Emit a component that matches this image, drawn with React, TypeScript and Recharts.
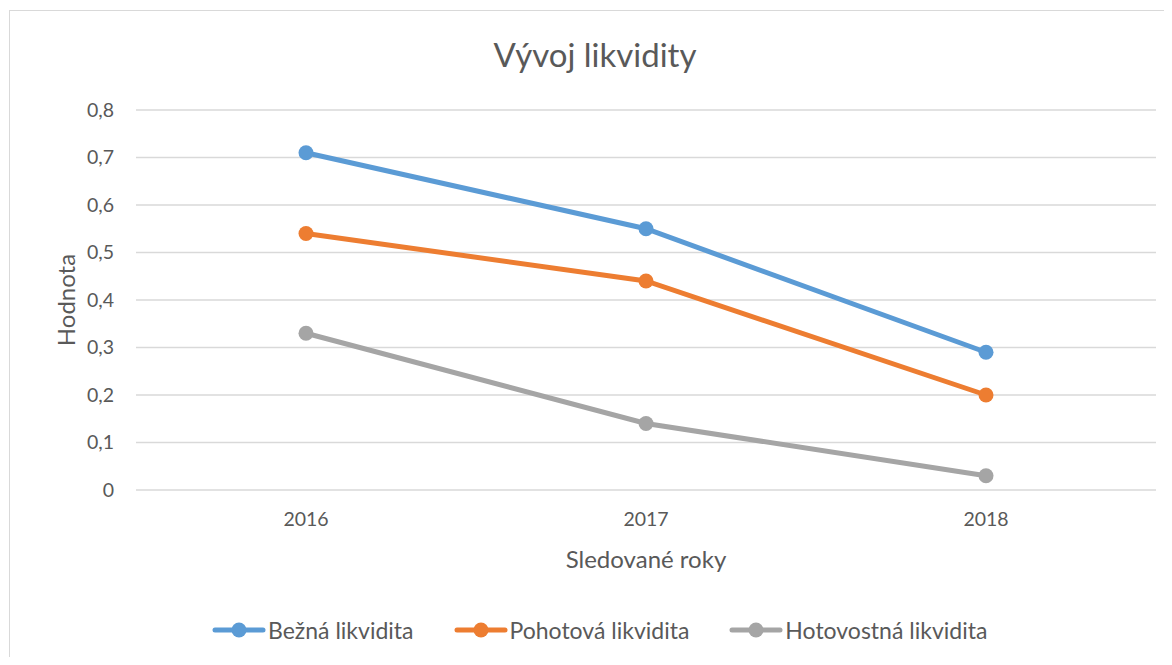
import { CartesianGrid, Line, LineChart, XAxis, YAxis, Label } from "recharts";

const years = ["2016", "2017", "2018"];
const beznaLikvidita = [0.71, 0.55, 0.29];
const pohotovaLikvidita = [0.54, 0.44, 0.2];
const hotovostnaLikvidita = [0.33, 0.14, 0.03];
const yTicks = [0, 0.1, 0.2, 0.3, 0.4, 0.5, 0.6, 0.7, 0.8];

const series = [
  { key: "bezna", label: "Bežná likvidita", color: "#5B9BD5", values: beznaLikvidita },
  { key: "pohotova", label: "Pohotová likvidita", color: "#ED7D31", values: pohotovaLikvidita },
  { key: "hotovostna", label: "Hotovostná likvidita", color: "#A5A5A5", values: hotovostnaLikvidita },
];

const rows = years.map((year, i) => {
  const row: Record<string, string | number> = { year };
  series.forEach((s) => {
    row[s.key] = s.values[i];
  });
  return row;
});

const FONT = "Lato, 'Noto Sans', sans-serif";
const TEXT = "#595959";

function fmt(v: number) {
  return String(Math.round(v * 10) / 10).replace(".", ",");
}

function ChartLegend() {
  return (
    <div
      style={{
        position: "absolute",
        left: 212,
        top: 616,
        display: "flex",
        gap: 40,
        fontFamily: FONT,
        fontSize: 23,
        color: TEXT,
      }}
    >
      {series.map((s) => (
        <div key={s.key} style={{ display: "flex", alignItems: "center" }}>
          <svg width={54} height={18}>
            <line x1={3} y1={9} x2={51} y2={9} stroke={s.color} strokeWidth={5} strokeLinecap="round" />
            <circle cx={27} cy={9} r={7.5} fill={s.color} />
          </svg>
          <span style={{ marginLeft: 2 }}>{s.label}</span>
        </div>
      ))}
    </div>
  );
}

export default function App() {
  return (
    <div style={{ margin: -8, width: 1172, height: 665, position: "relative", background: "#fff", overflow: "hidden" }}>
      <div
        style={{
          position: "absolute",
          left: 9,
          top: 10,
          width: 1180,
          height: 680,
          border: "1px solid #D9D9D9",
        }}
      />
      <div
        style={{
          position: "absolute",
          top: 34,
          left: 0,
          width: 1190,
          textAlign: "center",
          fontFamily: FONT,
          fontSize: 33,
          color: TEXT,
        }}
      >
        Vývoj likvidity
      </div>
      <div style={{ position: "absolute", left: 0, top: 0 }}>
        <LineChart
          width={1172}
          height={665}
          data={rows}
          margin={{ top: 110, right: 16, left: 76, bottom: 145 }}
        >
          <CartesianGrid vertical={false} stroke="#D9D9D9" strokeWidth={1.5} />
          <XAxis
            dataKey="year"
            axisLine={false}
            tickLine={false}
            tickSize={0}
            tickMargin={22}
            height={30}
            padding={{ left: 170, right: 170 }}
            tick={{ fill: TEXT, fontSize: 19.5, fontFamily: FONT }}
          >
            <Label
              value="Sledované roky"
              position="insideBottom"
              offset={-48}
              style={{ fill: TEXT, fontSize: 24, fontFamily: FONT }}
            />
          </XAxis>
          <YAxis
            domain={[0, 0.8]}
            ticks={yTicks}
            tickFormatter={fmt}
            axisLine={false}
            tickLine={false}
            tickSize={0}
            tickMargin={22}
            width={60}
            tick={{ fill: TEXT, fontSize: 19.5, fontFamily: FONT }}
          >
            <Label
              value="Hodnota"
              angle={-90}
              position="insideLeft"
              offset={-10}
              style={{ fill: TEXT, fontSize: 24, fontFamily: FONT, textAnchor: "middle" }}
            />
          </YAxis>
          {series.map((s) => (
            <Line
              key={s.key}
              dataKey={s.key}
              name={s.label}
              type="linear"
              stroke={s.color}
              strokeWidth={5}
              dot={{ r: 7.5, fill: s.color, stroke: s.color, strokeWidth: 0 }}
              activeDot={false}
              isAnimationActive={false}
            />
          ))}
        </LineChart>
      </div>
      <ChartLegend />
    </div>
  );
}
